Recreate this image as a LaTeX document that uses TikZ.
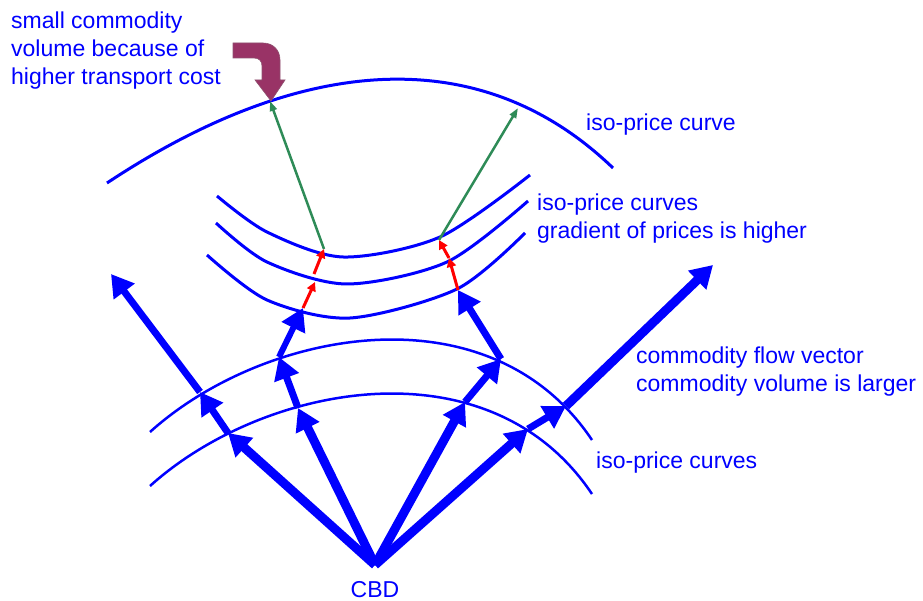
\documentclass[tikz,border=0pt]{standalone}
\usepackage{fontspec}
\setmainfont{Liberation Sans}
\usetikzlibrary{arrows.meta}
\definecolor{plum}{RGB}{153,51,102}
\definecolor{seagreen}{RGB}{46,139,87}
\begin{document}
\begin{tikzpicture}[x=1pt,y=-1pt, every node/.style={font=\fontsize{23}{28}\selectfont,text=blue,inner sep=0pt},
  iso/.style={blue,line width=3pt},
  flow/.style={-{Triangle[length=22pt,width=25pt]},blue,line width=7pt},
  bigflow/.style={flow,line width=9pt},
  rarr/.style={-{Triangle[length=9pt,width=9pt]},red,line width=3pt},
  garr/.style={-{Triangle[length=10pt,width=7pt]},seagreen,line width=2.5pt}]
  \useasboundingbox (0,0) rectangle (923,601);
  % iso-price curves
  \draw[iso] (107,183) .. controls (300,55) and (480,40) .. (613,168);
  \draw[iso] plot[smooth] coordinates {(217,196) (267,232) (343,257) (440,237) (530,175)};
  \draw[iso] plot[smooth] coordinates {(216,223) (267,262) (347,284) (447,262) (528,201)};
  \draw[iso] plot[smooth] coordinates {(207,255) (267,300) (350,318) (457,289) (525,233)};
  \draw[iso,line width=2.5pt] (150,432) .. controls (263,330) and (489,286) .. (592,440);
  \draw[iso,line width=2.5pt] (150,486) .. controls (263,384) and (489,340) .. (592,494);
  % flow points
  \coordinate (cbd) at (375,565);
  \coordinate (a1) at (228,433); \coordinate (a2) at (200,392); \coordinate (a3) at (111,274);
  \coordinate (b1) at (298,408); \coordinate (b2) at (279,357); \coordinate (b3) at (303,308);
  \coordinate (b4) at (315,282); \coordinate (b5) at (314,274); \coordinate (b6) at (324,249);
  \coordinate (c1) at (465,402); \coordinate (c2) at (501,359); \coordinate (c3) at (458,290);
  \coordinate (c4) at (449,258); \coordinate (c5) at (439,240);
  \coordinate (d1) at (528,429); \coordinate (d2) at (566,406); \coordinate (d3) at (713,265);
  \coordinate (g1) at (270,101); \coordinate (g2) at (518,108);
  % commodity flow vectors
  \draw[bigflow] (cbd) -- (a1);
  \draw[bigflow] (cbd) -- (b1);
  \draw[bigflow] (cbd) -- (c1);
  \draw[bigflow] (cbd) -- (d1);
  \draw[flow] (a1) -- (a2);
  \draw[flow] (a2) -- (a3);
  \draw[flow] (b1) -- (b2);
  \draw[flow,line width=6pt] (b2) -- (b3);
  \draw[flow] (c1) -- (c2);
  \draw[flow] (c2) -- (c3);
  \draw[flow] (d1) -- (d2);
  \draw[bigflow] (d2) -- (d3);
  \draw[rarr] (b3) -- (b4);
  \draw[rarr] (b5) -- (b6);
  \draw[rarr] (c3) -- (c4);
  \draw[rarr] (c4) -- (c5);
  \draw[garr] (b6) -- (g1);
  \draw[garr] (c5) -- (g2);
  % bent pointer
  \fill[plum,draw=plum!60!gray,line width=0.6pt] (233,43) -- (263,43) .. controls (273,43) and (280,50) .. (280,60)
    -- (280,80) -- (285,80) -- (271,101) -- (255,80) -- (262,80) -- (262,66)
    .. controls (262,61) and (259,58) .. (254,58) -- (233,58) -- cycle;
  % labels
  \node[anchor=west,align=left] (note) at (11,51) {small commodity\\volume because of\\higher transport cost};
  \node[anchor=base west] (top) at (586,131) {iso-price curve};
  \node[anchor=west,align=left] (mid) at (537,219) {iso-price curves\\gradient of prices is higher};
  \node[anchor=west,align=left] (vec) at (636,372) {commodity flow vector\\commodity volume is larger};
  \node[anchor=base west] (low) at (596,468) {iso-price curves};
  \node[anchor=base] (cbdlbl) at (375,597) {CBD};
\end{tikzpicture}
\end{document}
